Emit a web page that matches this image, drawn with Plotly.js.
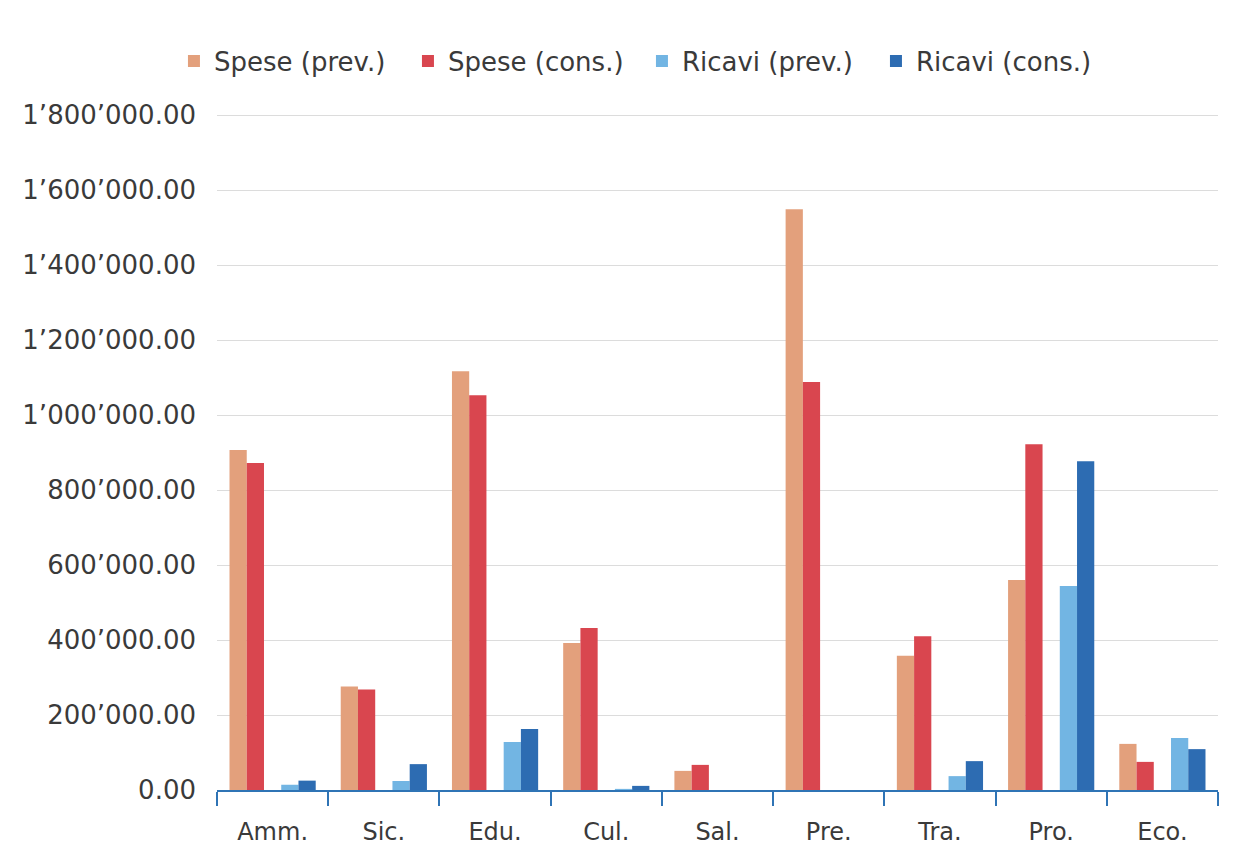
<!DOCTYPE html>
<html>
<head>
<meta charset="utf-8">
<script src="https://cdn.plot.ly/plotly-3.0.1.min.js"></script>
<style>html,body{margin:0;padding:0;background:#fff;}#chart{width:1243px;height:867px;}</style>
</head>
<body>
<div id="chart"></div>
<script>
const categories = ["Amm.", "Sic.", "Edu.", "Cul.", "Sal.", "Pre.", "Tra.", "Pro.", "Eco."];
const seriesNames = ["Spese (prev.)", "Spese (cons.)", "Ricavi (prev.)", "Ricavi (cons.)"];
const spesePrev = [907000, 276000, 1117000, 392000, 51000, 1549000, 358000, 560000, 123000];
const speseCons = [872000, 268000, 1053000, 432000, 67000, 1088000, 410000, 922000, 75000];
const ricaviPrev = [14000, 24000, 128000, 3000, 0, 0, 37000, 544000, 139000];
const ricaviCons = [25000, 69000, 163000, 11000, 0, 0, 77000, 877000, 109000];
const yTickVals = [0, 200000, 400000, 600000, 800000, 1000000, 1200000, 1400000, 1600000, 1800000];

const colors = ["#E3A07C", "#D9464F", "#72B5E3", "#2D6CB2"];
const offsets = [-0.3875, -0.2325, 0.0775, 0.2325];
const values = [spesePrev, speseCons, ricaviPrev, ricaviCons];

const traces = values.map((v, i) => ({
  type: "bar",
  name: seriesNames[i],
  x: categories,
  y: v,
  width: 0.155,
  offset: offsets[i],
  marker: {color: colors[i], line: {width: 0}},
  hoverinfo: "x+y+name"
}));

const layout = {
  width: 1243,
  height: 867,
  paper_bgcolor: "#ffffff",
  plot_bgcolor: "#ffffff",
  separators: ".\u2019",
  font: {family: "DejaVu Sans, Verdana, sans-serif", color: "#3a3a3a", size: 22},
  margin: {l: 217, r: 25, t: 112, b: 77},
  barmode: "group",
  showlegend: true,
  legend: {
    orientation: "h",
    x: -0.043, xanchor: "left",
    y: 1.075, yanchor: "middle",
    font: {size: 26, color: "#3a3a3a"},
    itemwidth: 30,
    entrywidth: 189,
    entrywidthmode: "pixels",
    traceorder: "normal"
  },
  xaxis: {
    type: "category",
    showline: true,
    linecolor: "#2F74B5",
    linewidth: 2,
    ticks: "outside",
    tickson: "boundaries",
    ticklen: 14,
    tickwidth: 2,
    tickcolor: "#2F74B5",
    showgrid: false,
    tickfont: {size: 24, color: "#3a3a3a"},
    ticklabelstandoff: 19
  },
  yaxis: {
    range: [0, 1808000],
    tickvals: yTickVals,
    tickformat: ",.2f",
    showgrid: true,
    gridcolor: "#dcdcdc",
    gridwidth: 1,
    zeroline: false,
    showline: false,
    ticks: "",
    tickfont: {size: 26, color: "#3a3a3a"},
    ticklabelstandoff: 20
  }
};

Plotly.newPlot("chart", traces, layout, {displayModeBar: false, staticPlot: true});
</script>
</body>
</html>
